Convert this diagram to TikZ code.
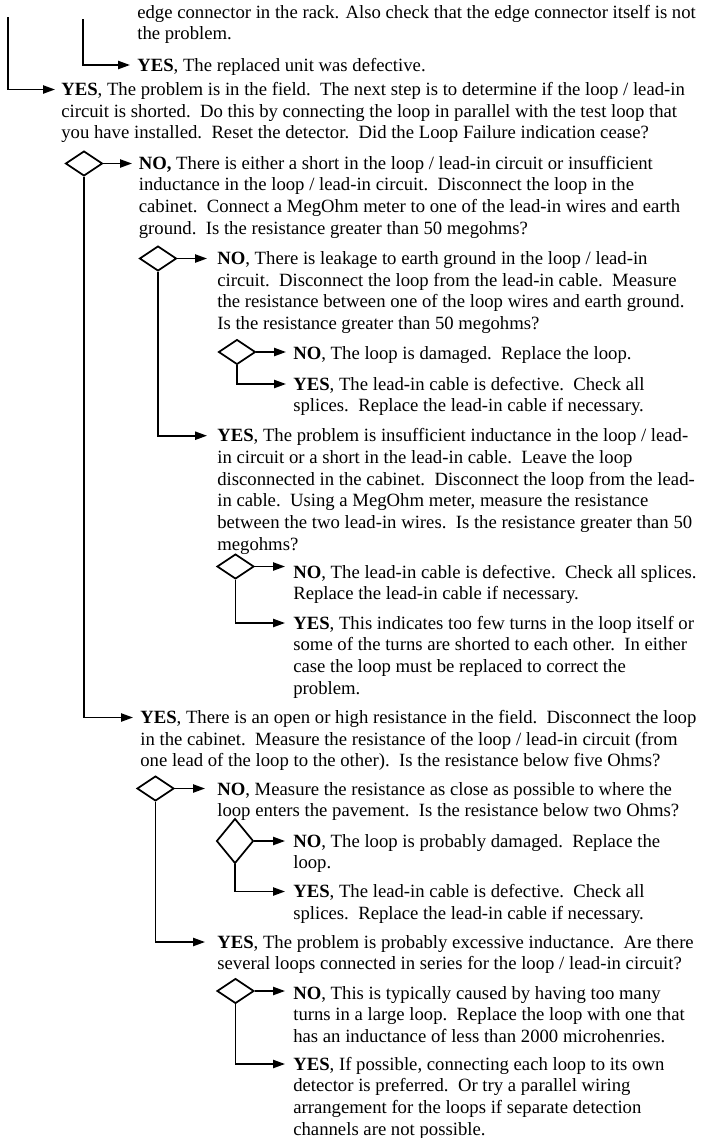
\documentclass[tikz,border=0pt]{standalone}
\usepackage{fontspec}
\setmainfont{Liberation Serif}
\usepackage{tikz}
\usetikzlibrary{shapes}
\usetikzlibrary{shapes.geometric}
\usetikzlibrary{calc}
\usetikzlibrary{arrows.meta}
\newcommand{\pblock}[1]{\vtop{\hsize=430pt\raggedright\noindent #1}}

\begin{document}
\begin{tikzpicture}[x=0.636pt,y=-0.636pt,font=\fontsize{11.9pt}{13.8pt}\selectfont]

	\tikzstyle{txt}=[anchor=base west,inner sep=0pt];
	\tikzstyle{dec}=[diamond,draw,line width=1.1pt,inner sep=0pt,minimum width=23.5pt,minimum height=15.8pt];
	\tikzstyle{arr}=[-{Triangle[length=7.6pt,width=5.2pt]},line width=1.1pt];

	\useasboundingbox (0,0) rectangle (703,1138);

	% free ends coming from above
	\coordinate (a0) at (8.3,17);
	\coordinate (a1) at (83,19);

	\node (t0) [txt] at (137,18) {\pblock{edge connector in the rack. Also check that the edge connector itself is not\\the problem.}};
	\node (t1) [txt] at (137,71) {\pblock{\textbf{YES}, The replaced unit was defective.}};
	\node (t2) [txt] at (61,95.5) {\pblock{\textbf{YES}, The problem is in the field.\ \ The next step is to determine if the loop / lead-in\\circuit is shorted.\ \ Do this by connecting the loop in parallel with the test loop that\\you have installed.\ \ Reset the detector.\ \ Did the Loop Failure indication cease?}};

	\node (q1) [dec] at (84,163.5) {};
	\node (t3) [txt] at (138.5,169) {\pblock{\textbf{NO,} There is either a short in the loop / lead-in circuit or insufficient\\inductance in the loop / lead-in circuit.\ \ Disconnect the loop in the\\cabinet.\ \ Connect a MegOhm meter to one of the lead-in wires and earth\\ground.\ \ Is the resistance greater than 50 megohms?}};

	\node (q2) [dec] at (158,258.5) {};
	\node (t4) [txt] at (217,264.5) {\pblock{\textbf{NO}, There is leakage to earth ground in the loop / lead-in\\circuit.\ \ Disconnect the loop from the lead-in cable.\ \ Measure\\the resistance between one of the loop wires and earth ground.\\Is the resistance greater than 50 megohms?}};

	\node (q3) [dec] at (237,352) {};
	\node (t5) [txt] at (293,359.5) {\pblock{\textbf{NO}, The loop is damaged.\ \ Replace the loop.}};
	\node (t6) [txt] at (293,390) {\pblock{\textbf{YES}, The lead-in cable is defective.\ \ Check all\\splices.\ \ Replace the lead-in cable if necessary.}};

	\node (t7) [txt] at (217,441.7) {\pblock{\textbf{YES}, The problem is insufficient inductance in the loop / lead-\\in circuit or a short in the lead-in cable.\ \ Leave the loop\\disconnected in the cabinet.\ \ Disconnect the loop from the lead-\\in cable.\ \ Using a MegOhm meter, measure the resistance\\between the two lead-in wires.\ \ Is the resistance greater than 50\\megohms?}};

	\node (q4) [dec] at (235.5,566.5) {};
	\node (t8) [txt] at (293,578) {\pblock{\textbf{NO}, The lead-in cable is defective.\ \ Check all splices.\\Replace the lead-in cable if necessary.}};
	\node (t9) [txt] at (293,629) {\pblock{\textbf{YES}, This indicates too few turns in the loop itself or\\some of the turns are shorted to each other.\ \ In either\\case the loop must be replaced to correct the\\problem.}};

	\node (t10) [txt] at (140,723.5) {\pblock{\textbf{YES}, There is an open or high resistance in the field.\ \ Disconnect the loop\\in the cabinet.\ \ Measure the resistance of the loop / lead-in circuit (from\\one lead of the loop to the other).\ \ Is the resistance below five Ohms?}};

	\node (q5) [dec] at (155.5,788.5) {};
	\node (t11) [txt] at (217,795) {\pblock{\textbf{NO}, Measure the resistance as close as possible to where the\\loop enters the pavement.\ \ Is the resistance below two Ohms?}};

	\node (q6) [dec,minimum height=28.5pt] at (235,841) {};
	\node (t12) [txt] at (293,847) {\pblock{\textbf{NO}, The loop is probably damaged.\ \ Replace the\\loop.}};
	\node (t13) [txt] at (293,897.5) {\pblock{\textbf{YES}, The lead-in cable is defective.\ \ Check all\\splices.\ \ Replace the lead-in cable if necessary.}};

	\node (t14) [txt] at (217,948) {\pblock{\textbf{YES}, The problem is probably excessive inductance.\ \ Are there\\several loops connected in series for the loop / lead-in circuit?}};

	\node (q7) [dec] at (235.5,991) {};
	\node (t15) [txt] at (293,999) {\pblock{\textbf{NO}, This is typically caused by having too many\\turns in a large loop.\ \ Replace the loop with one that\\has an inductance of less than 2000 microhenries.}};
	\node (t16) [txt] at (293,1070) {\pblock{\textbf{YES}, If possible, connecting each loop to its own\\detector is preferred.\ \ Or try a parallel wiring\\arrangement for the loops if separate detection\\channels are not possible.}};

	% NO branches
	\draw[arr] (q1.east) -- ($(q1.east -| t3.base west)+(-6.5,0)$);
	\draw[arr] (q2.east) -- ($(q2.east -| t4.base west)+(-10,0)$);
	\draw[arr] (q3.east) -- ($(q3.east -| t5.base west)+(-7,0)$);
	\draw[arr] (q4.east) -- ($(q4.east -| t8.base west)+(-8,0)$);
	\draw[arr] (q5.east) -- ($(q5.east -| t11.base west)+(-12,0)$);
	\draw[arr] (q6.east) -- ($(q6.east -| t12.base west)+(-8,0)$);
	\draw[arr] (q7.east) -- ($(q7.east -| t15.base west)+(-8,0)$);

	% YES branches
	\draw[arr] (a0) |- ($(t2.base west)+(-6,-6)$);
	\draw[arr] (a1) |- ($(t1.base west)+(-7,-6)$);
	\draw[arr] (q1.south) |- ($(t10.base west)+(-7,-6)$);
	\draw[arr] (q2.south) |- ($(t7.base west)+(-10,-6)$);
	\draw[arr] (q3.south) |- ($(t6.base west)+(-7,-6)$);
	\draw[arr] (q4.south) |- ($(t9.base west)+(-8,-6)$);
	\draw[arr] (q5.south) |- ($(t14.base west)+(-12,-6)$);
	\draw[arr] (q6.south) |- ($(t13.base west)+(-8,-6)$);
	\draw[arr] (q7.south) |- ($(t16.base west)+(-8,-6)$);
\end{tikzpicture}
\end{document}
